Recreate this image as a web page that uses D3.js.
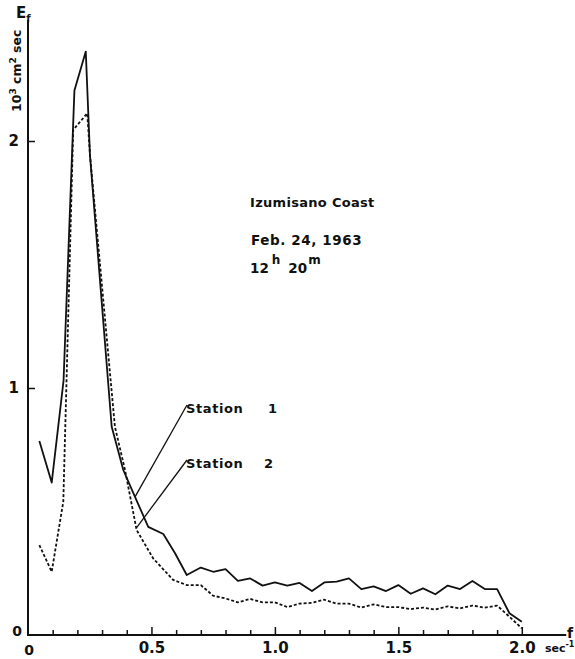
<!DOCTYPE html>
<html>
<head>
<meta charset="utf-8">
<script src="https://cdn.jsdelivr.net/npm/d3@7"></script>
<style>
  body { margin: 0; background: #fff; }
  svg { display: block; }
  text { font-family: "DejaVu Sans", sans-serif; font-weight: bold; fill: #111; }
</style>
</head>
<body>
<svg id="chart" width="575" height="659"></svg>
<script>
// Station 1 (solid)
const freq1 = [0.046, 0.096, 0.144, 0.188, 0.234, 0.251, 0.339, 0.386, 0.433, 0.487, 0.548, 0.595, 0.643,
	0.70, 0.75, 0.80, 0.85, 0.90, 0.95, 1.00, 1.05, 1.10, 1.15, 1.20, 1.25, 1.30, 1.35, 1.40,
	1.45, 1.50, 1.55, 1.60, 1.65, 1.70, 1.75, 1.80, 1.85, 1.90, 1.95, 2.00];
const station1 = [0.785, 0.617, 1.03, 2.204, 2.362, 1.943, 0.843, 0.668, 0.56, 0.438, 0.409, 0.332, 0.243,
	0.273, 0.256, 0.267, 0.219, 0.229, 0.2, 0.213, 0.2, 0.211, 0.178, 0.213, 0.216, 0.229, 0.186, 0.197,
	0.178, 0.202, 0.167, 0.189, 0.165, 0.2, 0.186, 0.219, 0.186, 0.186, 0.088, 0.054];

// Station 2 (dashed)
const freq2 = [0.046, 0.096, 0.143, 0.183, 0.24, 0.251, 0.352, 0.393, 0.44, 0.507, 0.588, 0.643,
	0.70, 0.75, 0.80, 0.85, 0.90, 0.95, 1.00, 1.05, 1.10, 1.15, 1.20, 1.25, 1.30, 1.35, 1.40,
	1.45, 1.50, 1.55, 1.60, 1.65, 1.70, 1.75, 1.80, 1.85, 1.90, 1.95, 2.00];
const station2 = [0.364, 0.256, 0.54, 2.045, 2.112, 1.943, 0.843, 0.668, 0.425, 0.31, 0.223, 0.202,
	0.202, 0.159, 0.148, 0.132, 0.146, 0.132, 0.132, 0.113, 0.127, 0.13, 0.143, 0.127, 0.127, 0.111, 0.124,
	0.113, 0.113, 0.105, 0.111, 0.103, 0.116, 0.108, 0.119, 0.111, 0.119, 0.074, 0.027];

const xMajor = [0, 0.5, 1.0, 1.5, 2.0];
const xMinor = [0.1, 0.2, 0.3, 0.4, 0.6, 0.7, 0.8, 0.9, 1.1, 1.2, 1.3, 1.4, 1.6, 1.7, 1.8, 1.9];
const yMajor = [1, 2];

const svg = d3.select("#chart");
const x = d3.scaleLinear().domain([0, 2]).range([28, 521.8]);
const y = d3.scaleLinear().domain([0, 2]).range([635, 141]);

svg.append("rect").attr("width", 575).attr("height", 659).attr("fill", "#fff");

// axes lines
svg.append("line")
	.attr("x1", x(0)).attr("x2", x(0))
	.attr("y1", y(2.49)).attr("y2", y(0) + 1)
	.attr("stroke", "#111").attr("stroke-width", 2);
svg.append("line")
	.attr("x1", x(0) - 1).attr("x2", x(2.18))
	.attr("y1", y(0)).attr("y2", y(0))
	.attr("stroke", "#111").attr("stroke-width", 2);

// x ticks
const gx = svg.append("g").attr("transform", `translate(0,${y(0)})`);
gx.call(d3.axisBottom(x).tickValues(xMinor).tickSizeInner(-5).tickSizeOuter(0).tickFormat(""));
gx.call((g) => g.select(".domain").remove());
const gx2 = svg.append("g").attr("transform", `translate(0,${y(0)})`);
gx2.call(d3.axisBottom(x).tickValues(xMajor.slice(1)).tickSizeInner(-8).tickSizeOuter(0).tickPadding(7)
	.tickFormat((d) => d3.format(".1f")(d)));
gx2.call((g) => g.select(".domain").remove());
gx2.selectAll(".tick line").attr("stroke", "#111").attr("stroke-width", 1.5);
gx.selectAll(".tick line").attr("stroke", "#111").attr("stroke-width", 1.5);
gx2.selectAll("text").attr("font-size", 15).attr("font-family", null).attr("font-weight", "normal").attr("fill", "#111");

// y ticks
const gy = svg.append("g").attr("transform", `translate(${x(0)},0)`);
gy.call(d3.axisLeft(y).tickValues(yMajor).tickSizeInner(-7).tickSizeOuter(0).tickPadding(9)
	.tickFormat(d3.format("d")));
gy.call((g) => g.select(".domain").remove());
gy.selectAll(".tick line").attr("stroke", "#111").attr("stroke-width", 1.5);
gy.selectAll("text").attr("font-size", 15).attr("font-family", null).attr("font-weight", "normal").attr("fill", "#111");

// zero labels
svg.append("text").attr("x", 17).attr("y", 636).attr("text-anchor", "middle").attr("font-size", 14)
	.attr("font-weight", "normal").text("0");
svg.append("text").attr("x", 29).attr("y", 655).attr("text-anchor", "middle").attr("font-size", 14)
	.attr("font-weight", "normal").text("0");

// unit labels
svg.append("text").attr("x", 545).attr("y", 652).attr("font-size", 11).text("sec")
	.append("tspan").attr("dy", -5).attr("font-size", 8).text("-1");
svg.append("text").attr("x", 567).attr("y", 638).attr("font-size", 14).attr("font-weight", "normal").text("f");

const ef = svg.append("text").attr("x", 16).attr("y", 18).attr("font-size", 15);
ef.append("tspan").text("E");
ef.append("tspan").attr("dy", 4).attr("font-size", 10).text("f");

const yt = svg.append("text")
	.attr("transform", "translate(21,112) rotate(-90)")
	.attr("font-size", 12.5);
yt.append("tspan").text("10");
yt.append("tspan").attr("dy", -5).attr("font-size", 9).text("3");
yt.append("tspan").attr("dy", 5).text(" cm");
yt.append("tspan").attr("dy", -5).attr("font-size", 9).text("2");
yt.append("tspan").attr("dy", 5).text(" sec");

// curves
const line = d3.line().x((d) => x(d[0])).y((d) => y(d[1]));
svg.append("path")
	.datum(d3.zip(freq1, station1))
	.attr("d", line)
	.attr("fill", "none").attr("stroke", "#111").attr("stroke-width", 1.8)
	.attr("stroke-linejoin", "round");
svg.append("path")
	.datum(d3.zip(freq2, station2))
	.attr("d", line)
	.attr("fill", "none").attr("stroke", "#111").attr("stroke-width", 1.8)
	.attr("stroke-dasharray", "3,2");

// annotations
svg.append("text").attr("x", 250).attr("y", 207).attr("font-size", 13).attr("letter-spacing", 0.3)
	.text("Izumisano Coast");
svg.append("text").attr("x", 251).attr("y", 245).attr("font-size", 13.5).attr("letter-spacing", 0.6)
	.text("Feb. 24, 1963");
const tm = svg.append("text").attr("x", 250).attr("y", 273).attr("font-size", 13.5);
tm.append("tspan").text("12");
tm.append("tspan").attr("dx", 3).attr("dy", -9).attr("font-size", 12).text("h");
tm.append("tspan").attr("dx", 8).attr("dy", 9).text("20");
tm.append("tspan").attr("dx", 1).attr("dy", -9).attr("font-size", 12).text("m");

svg.append("text").attr("x", 186).attr("y", 413).attr("font-size", 13).attr("letter-spacing", 0.6)
	.text("Station");
svg.append("text").attr("x", 268).attr("y", 413).attr("font-size", 13).text("1");
svg.append("text").attr("x", 186).attr("y", 468).attr("font-size", 13).attr("letter-spacing", 0.6)
	.text("Station");
svg.append("text").attr("x", 264).attr("y", 468).attr("font-size", 13).text("2");

// leader lines
svg.append("line").attr("x1", 187).attr("y1", 405).attr("x2", x(0.434)).attr("y2", y(0.56))
	.attr("stroke", "#111").attr("stroke-width", 1.3);
svg.append("line").attr("x1", 187).attr("y1", 460).attr("x2", x(0.44)).attr("y2", y(0.435))
	.attr("stroke", "#111").attr("stroke-width", 1.3);
</script>
</body>
</html>
